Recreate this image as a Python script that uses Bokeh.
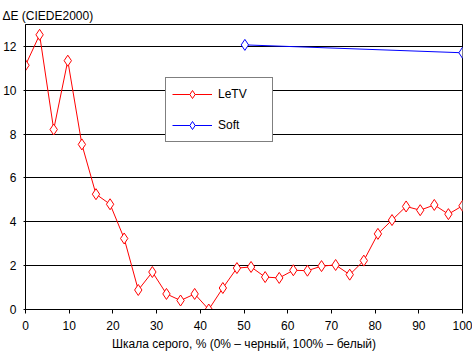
from bokeh.plotting import figure
from bokeh.models import Range1d, FixedTicker, Legend, LegendItem
from bokeh.embed import file_html
from bokeh.resources import INLINE

n_steps = 31
letv_x = [i * 100 / n_steps for i in range(32)]
letv_y = [11.14, 12.53, 8.21, 11.35, 7.53, 5.26, 4.80, 3.24, 0.89, 1.71, 0.71, 0.41,
          0.71, 0.0, 0.98, 1.89, 1.94, 1.48, 1.44, 1.79, 1.77, 1.98, 2.03, 1.59,
          2.23, 3.45, 4.08, 4.70, 4.53, 4.77, 4.35, 4.73]
soft_x = [50.2, 100]
soft_y = [12.07, 11.71]
x_ticks = [0, 10, 20, 30, 40, 50, 60, 70, 80, 90, 100]
y_ticks = [0, 2, 4, 6, 8, 10, 12]

FONT = "Liberation Sans"

p = figure(width=472, height=353, output_backend="svg", toolbar_location=None,
           x_range=Range1d(0, 100), y_range=Range1d(0, 13),
           min_border_left=23, min_border_right=10, min_border_top=24, min_border_bottom=43,
           title="ΔE (CIEDE2000)")
p.title.text_font = FONT
p.title.text_font_size = "12px"
p.title.text_font_style = "normal"
p.title.text_color = "#000000"
p.title.offset = -23
p.title.standoff = 4

p.outline_line_color = "black"
p.outline_line_width = 1
p.background_fill_color = "white"
p.border_fill_color = "white"

p.xgrid.grid_line_color = None
p.ygrid.grid_line_color = "black"
p.ygrid.grid_line_width = 1
p.ygrid.ticker = FixedTicker(ticks=y_ticks)

p.xaxis.ticker = FixedTicker(ticks=x_ticks)
p.yaxis.ticker = FixedTicker(ticks=y_ticks)
for ax in (p.xaxis[0], p.yaxis[0]):
    ax.axis_line_color = "black"
    ax.major_tick_line_color = "black"
    ax.minor_tick_line_color = None
    ax.major_tick_in = 0
    ax.major_label_text_font = FONT
    ax.major_label_text_font_size = "12px"
    ax.major_label_text_color = "#000000"
p.xaxis.major_tick_out = 4
p.yaxis.major_tick_out = 2
p.xaxis.major_label_standoff = 7
p.yaxis.major_label_standoff = 7
p.xaxis.axis_label = "Шкала серого, % (0% – черный, 100% – белый)"
p.xaxis.axis_label_text_font = FONT
p.xaxis.axis_label_text_font_size = "12px"
p.xaxis.axis_label_text_font_style = "normal"
p.xaxis.axis_label_text_color = "#000000"
p.xaxis.axis_label_standoff = 4

r1 = p.line(letv_x, letv_y, line_color="#FF0000", line_width=1)
m1 = p.scatter(letv_x, letv_y, marker="diamond", size=11, line_color="#FF0000",
               fill_color="white", line_width=1)
r2 = p.line(soft_x, soft_y, line_color="#0000FF", line_width=1)
m2 = p.scatter(soft_x, soft_y, marker="diamond", size=11, line_color="#0000FF",
               fill_color="white", line_width=1)

legend = Legend(items=[LegendItem(label="LeTV", renderers=[r1, m1]),
                       LegendItem(label="Soft", renderers=[r2, m2])],
                location=(140, 167), orientation="vertical",
                border_line_color="black", border_line_width=1,
                background_fill_color="white", background_fill_alpha=1,
                padding=6, spacing=11, glyph_height=20, label_height=20,
                glyph_width=40, label_standoff=6, label_width=48,
                label_text_font=FONT, label_text_font_size="12px",
                label_text_color="#000000", margin=0)
p.add_layout(legend, "center")

open("out.html", "w").write(file_html(p, INLINE))
